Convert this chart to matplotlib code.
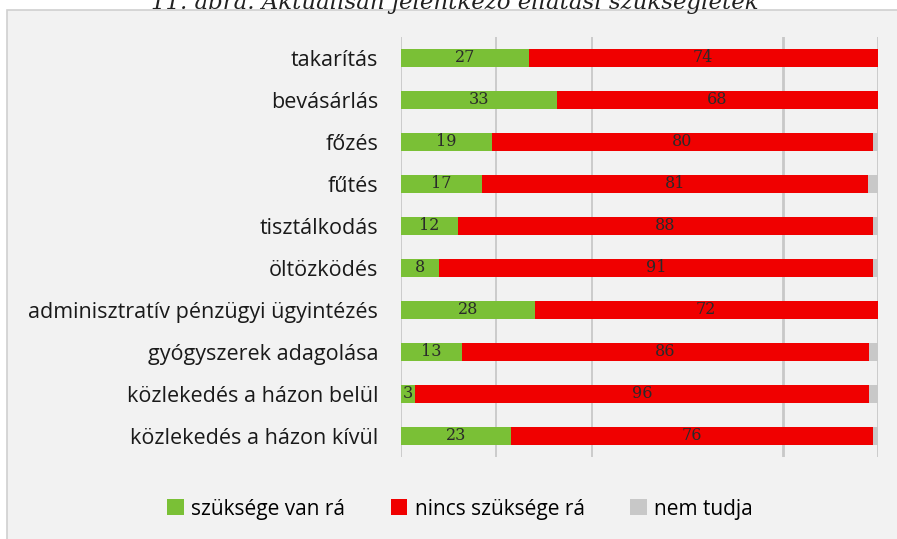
import matplotlib
matplotlib.use("Agg")
from matplotlib import pyplot as plt
from matplotlib.patches import Rectangle
import numpy as np

categories = ["takarítás", "bevásárlás", "főzés", "fűtés", "tisztálkodás",
              "öltözködés", "adminisztratív pénzügyi ügyintézés",
              "gyógyszerek adagolása", "közlekedés a házon belül",
              "közlekedés a házon kívül"]
szukseges = [27, 33, 19, 17, 12, 8, 28, 13, 3, 23]
nincs = [74, 68, 80, 81, 88, 91, 72, 86, 96, 76]
nem_tudja = [0, 0, 1, 2, 1, 1, 0, 2, 2, 1]
series_names = ["szüksége van rá", "nincs szüksége rá", "nem tudja"]
colors = ["#7AC036", "#F00000", "#C8C8C8"]
title = "11. ábra. Aktuálisan jelentkező ellátási szükségletek"

fig = plt.figure(figsize=(8.97, 5.39), dpi=100)
fig.patch.set_facecolor("white")

# chart area background (border only on top and left, rest runs off the image)
bg = Rectangle((6.5 / 897, -0.1), 1.2, 1 - 9.5 / 539 + 0.1, transform=fig.transFigure,
               facecolor="#F2F2F2", edgecolor="#D0D0D0", linewidth=1.2, zorder=-10)
fig.patches.append(bg)

fig.text(455 / 897, 1.0 - 2 / 539, title, ha="center", va="center", fontsize=16.5,
         style="italic", family="DejaVu Serif", color="#222222")

ax = fig.add_axes([401 / 897, 1 - 457 / 539, 477 / 897, 420 / 539])
ax.set_facecolor("none")

data = np.array([szukseges, nincs, nem_tudja], dtype=float)
shares = data / data.sum(axis=0) * 100
y = np.arange(len(categories))

left = np.zeros(len(categories))
for i in range(3):
    ax.barh(y, shares[i], left=left, height=0.43, color=colors[i],
            label=series_names[i], zorder=2)
    if i < 2:
        for yy, l, w, v in zip(y, left, shares[i], data[i]):
            ax.text(l + w / 2, yy, "%d" % v, ha="center", va="center",
                    fontsize=11.5, family="DejaVu Serif", color="#2a2a2a", zorder=3)
    left = left + shares[i]

ax.set_xlim(0, 100)
ax.set_ylim(len(categories) - 0.5, -0.5)
for gx in [0, 20, 40, 80, 100]:
    ax.axvline(gx, color="#C8C8C8", linewidth=1.3 if gx not in (80, 100) else 2, zorder=1)

ax.set_yticks(y)
ax.set_yticklabels(categories, fontsize=15.5, family="Open Sans", color="#1a1a1a")
ax.tick_params(axis="y", length=0, pad=16.5)
ax.set_xticks([])
for s in ax.spines.values():
    s.set_visible(False)

leg = fig.legend(loc="center", bbox_to_anchor=(460 / 897, 1 - 509 / 539), ncol=3,
                 frameon=False, handlelength=0.8, handleheight=0.8,
                 handletextpad=0.35, columnspacing=2.2, prop={"family": "Open Sans", "size": 15})

fig.savefig("out.png", dpi=100, facecolor=fig.get_facecolor())
